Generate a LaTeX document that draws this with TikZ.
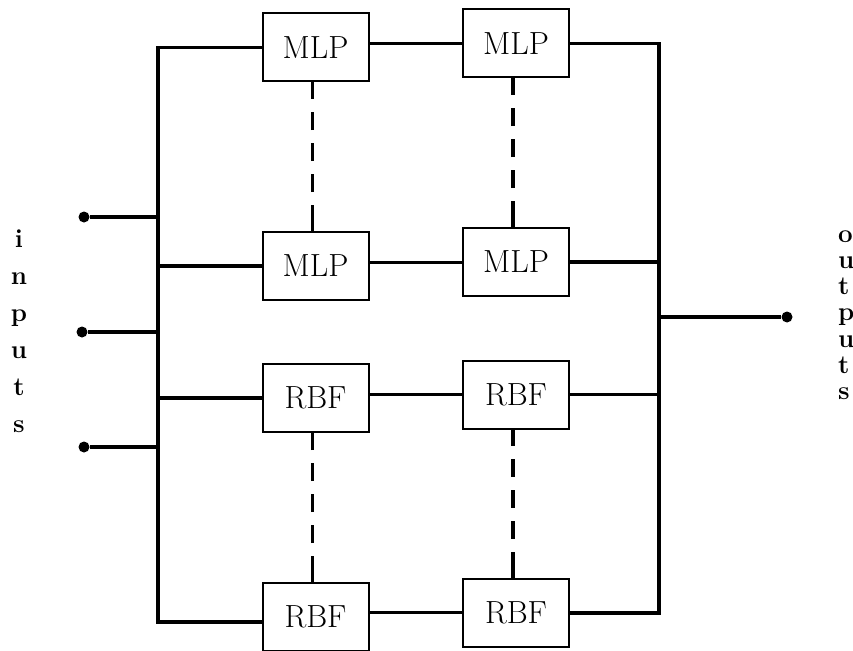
\documentclass[tikz,border=0pt]{standalone}
\usepackage{pdfrender}
\newcommand{\unittext}[1]{\textpdfrender{TextRenderingMode=FillStroke,LineWidth=1.1}{#1}}
\begin{document}
\begin{tikzpicture}[x=1pt,y=-1pt,
  unit/.style={draw, line width=2pt, minimum width=106pt, minimum height=68pt,
    inner sep=0pt, fill=white, font=\fontsize{32}{38}\selectfont},
  bus/.style={line width=3.4pt},
  link/.style={line width=3pt},
  gap/.style={line width=3.2pt,
    dash pattern=on 26pt off 13pt on 18pt off 13pt on 18pt off 13pt on 18pt off 13pt on 24pt off 100pt},
  pin/.style={circle, fill, inner sep=0pt, minimum size=11pt},
  letter/.style={font=\bfseries\fontsize{26}{30}\selectfont, inner sep=0pt}]
\useasboundingbox (0,0) rectangle (853,650);

% processing units: two columns, each with MLP and RBF groups
\node[unit] (L1) at (315.5,47.5) {\unittext{MLP}};
\node[unit] (L2) at (315.5,266)  {\unittext{MLP}};
\node[unit] (L3) at (315.5,398)  {\unittext{RBF}};
\node[unit] (L4) at (315.5,617)  {\unittext{RBF}};
\node[unit] (R1) at (516,43.5)   {\unittext{MLP}};
\node[unit] (R2) at (516,262)    {\unittext{MLP}};
\node[unit] (R3) at (516,394.5)  {\unittext{RBF}};
\node[unit] (R4) at (516,612.5)  {\unittext{RBF}};

% terminals
\node[pin] (p1) at (84,217) {};
\node[pin] (p2) at (82,332) {};
\node[pin] (p3) at (84,447) {};
\node[pin] (q)  at (787,317) {};

% bus ends
\coordinate (lb) at (158,622);
\coordinate (rb) at (659,613);

% input bus
\draw[bus] (L1.west) -| (lb) -- (L4.west |- lb);
\draw[bus] (L2.west) -- (L2.west -| lb);
\draw[bus] (L3.west) -- (L3.west -| lb);
\draw[bus] (p1) -- (p1 -| lb);
\draw[bus] (p2) -- (p2 -| lb);
\draw[bus] (p3) -- (p3 -| lb);

% output bus
\draw[bus] (R1.east) -| (rb) -- (R4.east |- rb);
\draw[bus] (R2.east) -- (R2.east -| rb);
\draw[bus] (R3.east) -- (R3.east -| rb);
\draw[bus] (q) -- (q -| rb);

% links between the two columns
\draw[link] (L1.east |- R1.west) -- (R1.west);
\draw[link] (L2.east |- R2.west) -- (R2.west);
\draw[link] (L3.east |- R3.west) -- (R3.west);
\draw[link] (L4.east |- R4.west) -- (R4.west);

% elided units
\draw[gap] ([xshift=-3pt]L2.north) -- ([xshift=-3pt]L1.south);
\draw[gap] ([xshift=-3pt]R2.north) -- ([xshift=-3pt]R1.south);
\draw[gap] ([xshift=-3pt]L4.north) -- ([xshift=-3pt]L3.south);
\draw[gap] ([xshift=-3pt]R4.north) -- ([xshift=-3pt]R3.south);

% vertical labels
\foreach \ch [count=\k] in {i,n,p,u,t,s}
  \node[letter, anchor=base] (in\k) at (19, 210+37*\k) {\ch};
\foreach \ch [count=\k] in {o,u,t,p,u,t,s}
  \node[letter, anchor=base west] (out\k) at (838, 215.7+26.3*\k) {\ch};
\end{tikzpicture}
\end{document}
